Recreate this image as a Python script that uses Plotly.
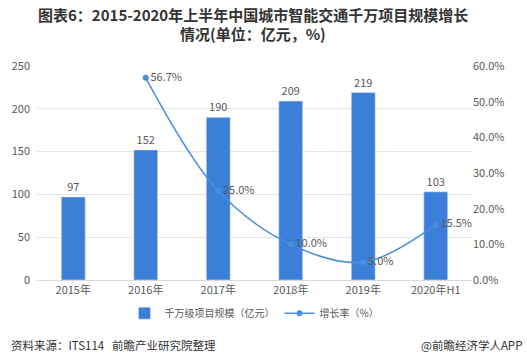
import plotly.graph_objects as go

categories = ["2015年", "2016年", "2017年", "2018年", "2019年", "2020年H1"]
scale_values = [97, 152, 190, 209, 219, 103]
growth_x = ["2016年", "2017年", "2018年", "2019年", "2020年H1"]
growth_values = [56.7, 25.0, 10.0, 5.0, 15.5]
left_ticks = [0, 50, 100, 150, 200, 250]
right_ticks = [0, 10, 20, 30, 40, 50, 60]

font_cn = "Noto Sans CJK SC, Microsoft YaHei, sans-serif"
gray = "#595959"
pw = 443

fig = go.Figure()
fig.add_trace(go.Bar(
    x=categories, y=scale_values, name="千万级项目规模（亿元）",
    marker_color="#3b7fd8", width=0.33,
    text=[str(v) for v in scale_values], textposition="outside",
    textfont=dict(size=11, color=gray, family=font_cn), cliponaxis=False,
))
fig.add_trace(go.Scatter(
    x=growth_x, y=growth_values, name="增长率（%）", yaxis="y2",
    mode="lines+markers+text", line=dict(color="#4a8fdc", width=1.5, shape="spline", smoothing=1.0),
    marker=dict(size=6, color="#4a8fdc"),
    text=[f"{v:.1f}%" for v in growth_values], textposition="middle right",
    textfont=dict(size=11, color=gray, family=font_cn), cliponaxis=False,
))

fig.update_layout(
    width=527, height=354,
    margin=dict(l=29, r=55, t=66, b=74),
    paper_bgcolor="white", plot_bgcolor="white",
    font=dict(family=font_cn, color=gray, size=11),
    showlegend=True,
    legend=dict(orientation="h", x=0.5, xanchor="center", y=-0.155, yanchor="middle",
                font=dict(size=10, color=gray), bgcolor="rgba(0,0,0,0)"),
    xaxis=dict(showgrid=False, showline=True, linecolor="#d9d9d9", ticks="",
               tickfont=dict(size=11, color=gray)),
    yaxis=dict(range=[0, 250], tickvals=left_ticks, showgrid=True, gridcolor="#e5e5e5",
               zeroline=False, tickfont=dict(size=11, color=gray), ticklabelstandoff=6),
    yaxis2=dict(range=[0, 60], tickvals=right_ticks, ticktext=[f"{v:.1f}%" for v in right_ticks],
                overlaying="y", side="right", showgrid=False, zeroline=False,
                tickfont=dict(size=11, color=gray)),
    annotations=[
        dict(text="<b>图表6：2015-2020年上半年中国城市智能交通千万项目规模增长</b>",
             xref="paper", yref="paper", x=(249 - 29) / pw, y=1, yshift=66 - 14, xanchor="center", yanchor="middle",
             showarrow=False, font=dict(size=15, color="#333333", family=font_cn)),
        dict(text="<b>情况(单位：亿元，%)</b>",
             xref="paper", yref="paper", x=(249 - 29) / pw, y=1, yshift=66 - 33, xanchor="center", yanchor="middle",
             showarrow=False, font=dict(size=15, color="#333333", family=font_cn)),
        dict(text="资料来源：ITS114   前瞻产业研究院整理", xref="paper", yref="paper",
             x=-29 / pw, y=0, yshift=-(345 - 280), xanchor="left", yanchor="middle", showarrow=False,
             font=dict(size=11.5, color="#333333", family=font_cn)),
        dict(text="@前瞻经济学人APP", xref="paper", yref="paper",
             x=(525 - 29) / pw, y=0, yshift=-(345 - 280), xanchor="right", yanchor="middle", showarrow=False,
             font=dict(size=11.5, color="#333333", family=font_cn)),
    ],
)

fig.write_html("out.html")
